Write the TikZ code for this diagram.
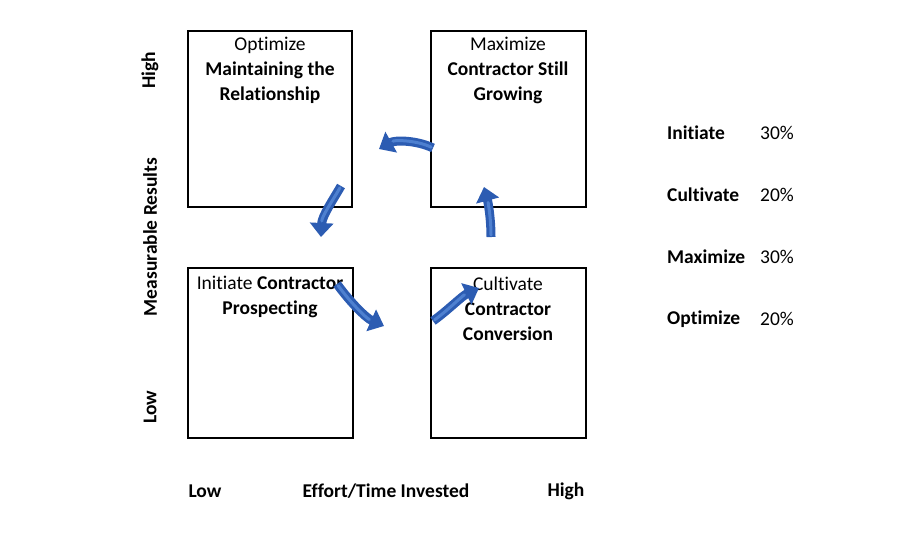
\documentclass[tikz,border=0pt]{standalone}
\usepackage{fontspec}
\setmainfont{Carlito}[Ligatures={NoCommon,NoContextual}]
\usetikzlibrary{arrows.meta}
\definecolor{arrowblue}{RGB}{44,92,178}
\definecolor{arrowlight}{RGB}{78,128,208}
\begin{document}
\begin{tikzpicture}[x=1pt,y=-1pt,
  quad/.style={draw=black,line width=1.6pt,minimum width=#1,inner sep=0pt},
  txt/.style={font=\fontsize{19.5}{25}\selectfont,align=center,inner sep=0pt},
  lbl/.style={font=\fontsize{19.5}{25}\selectfont\bfseries,inner sep=0pt},
  blockarrow/.style={arrowblue,line width=9pt,-{Triangle[width=23pt,length=14pt]}},
  highlight/.style={arrowlight,line width=3pt,line cap=round,shorten >=16pt,shorten <=2pt}]
\useasboundingbox (0,0) rectangle (900,550);
% quadrants
\node[quad=164pt,minimum height=176pt] (tl) at (270,119) {};
\node[quad=155pt,minimum height=176pt] (tr) at (508.5,119) {};
\node[quad=165pt,minimum height=170pt] (bl) at (270.5,353) {};
\node[quad=155pt,minimum height=170pt] (br) at (508.5,353) {};
% quadrant texts
\node[txt] (tltext) at (270,70.5) {Optimize\\\textbf{Maintaining the}\\\textbf{Relationship}};
\node[txt] (trtext) at (508,70.5) {Maximize\\\textbf{Contractor Still}\\\textbf{Growing}};
\node[txt] (bltext) at (270,296.5) {Initiate \textbf{Contractor}\\\textbf{Prospecting}};
\node[txt] (brtext) at (508,309) {Cultivate\\\textbf{Contractor}\\\textbf{Conversion}};
% axis labels
\node[lbl,rotate=90] (yhigh) at (150,70) {High};
\node[lbl,rotate=90] (ytitle) at (150,237) {Measurable Results};
\node[lbl,rotate=90] (ylow) at (150,407) {Low};
\node[lbl] (xlow) at (205,491) {Low};
\node[lbl] (xtitle) at (386,491) {Effort/Time Invested};
\node[lbl] (xhigh) at (566,491) {High};
% legend
\node[lbl,anchor=west] (l1) at (667,133) {Initiate};
\node[lbl,anchor=west] (l2) at (667,195) {Cultivate};
\node[lbl,anchor=west] (l3) at (667,257) {Maximize};
\node[lbl,anchor=west] (l4) at (667,319) {Optimize};
\node[txt,anchor=west] (p1) at (760,133) {30\%};
\node[txt,anchor=west] (p2) at (760,195) {20\%};
\node[txt,anchor=west] (p3) at (760,257) {30\%};
\node[txt,anchor=west] (p4) at (760,319) {20\%};
% arrow anchors
\coordinate (a1s) at (341,186); \coordinate (a1e) at (321,237);
\coordinate (a2s) at (433,148); \coordinate (a2e) at (379,149);
\coordinate (a3s) at (337,284); \coordinate (a3e) at (384,326);
\coordinate (a4s) at (433,321); \coordinate (a4e) at (479,288);
\coordinate (a5s) at (491,237); \coordinate (a5e) at (484,187);
% arrows
\draw[blockarrow] (a1s) .. controls (333,200) and (322,216) .. (a1e);
\draw[highlight] (a1s) .. controls (333,200) and (322,216) .. (a1e);
\draw[blockarrow] (a2s) .. controls (416,140) and (395,140) .. (a2e);
\draw[highlight] (a2s) .. controls (416,140) and (395,140) .. (a2e);
\draw[blockarrow] (a3s) .. controls (350,302) and (366,318) .. (a3e);
\draw[highlight] (a3s) .. controls (350,302) and (366,318) .. (a3e);
\draw[blockarrow] (a4s) .. controls (447,311) and (462,296) .. (a4e);
\draw[highlight] (a4s) .. controls (447,311) and (462,296) .. (a4e);
\draw[blockarrow] (a5s) .. controls (491,218) and (488,202) .. (a5e);
\draw[highlight] (a5s) .. controls (491,218) and (488,202) .. (a5e);
\end{tikzpicture}
\end{document}
